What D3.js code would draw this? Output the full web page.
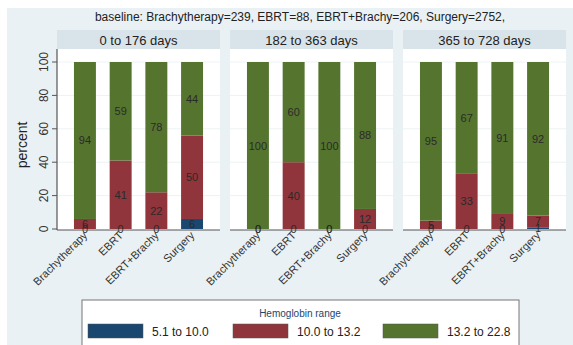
<!DOCTYPE html>
<html><head><meta charset="utf-8">
<script src="https://cdn.jsdelivr.net/npm/d3@7/dist/d3.min.js"></script>
<style>body{margin:0;background:#fff;}svg{display:block;font-family:"Liberation Sans",Arial,sans-serif;}</style>
</head><body><div id="c"></div>
<script>
const title = "baseline: Brachytherapy=239, EBRT=88, EBRT+Brachy=206, Surgery=2752,";
const panels = ["0 to 176 days", "182 to 363 days", "365 to 728 days"];
const categories = ["Brachytherapy", "EBRT", "EBRT+Brachy", "Surgery"];
const seriesNames = ["5.1 to 10.0", "10.0 to 13.2", "13.2 to 22.8"];
const seriesColors = ["#1a476f", "#90353b", "#55752f"];
// values[panel][category] = [low, mid, high]
const low  = [[0, 0, 0, 6], [0, 0, 0, 0], [0, 0, 0, 1]];
const mid  = [[6, 41, 22, 50], [0, 40, 0, 12], [5, 33, 9, 7]];
const high = [[94, 59, 78, 44], [100, 60, 100, 88], [95, 67, 91, 92]];
const yTicks = [0, 20, 40, 60, 80, 100];

const W = 573, H = 345;
const svg = d3.select("#c").append("svg").attr("width", W).attr("height", H);
svg.append("rect").attr("x", 7).attr("y", 8).attr("width", W - 7).attr("height", H - 8).attr("fill", "#eaf1f4");

svg.append("text").attr("x", 300).attr("y", 21).attr("text-anchor", "middle")
  .attr("font-size", 12).attr("fill", "#222").text(title);

const panelX = [57, 230, 403], panelW = 163;
const headTop = 30, headBot = 49, plotBot = 230;
const y = d3.scaleLinear().domain([0, 100]).range([229, 62]);

panels.forEach((p, pi) => {
  const g = svg.append("g").attr("transform", `translate(${panelX[pi]},0)`);
  g.append("rect").attr("x", 0).attr("y", headTop).attr("width", panelW).attr("height", headBot - headTop).attr("fill", "#d9e4ea");
  g.append("text").attr("x", panelW / 2).attr("y", 45).attr("text-anchor", "middle").attr("font-size", 13).attr("fill", "#222").text(p);
  g.append("rect").attr("x", 0).attr("y", headBot).attr("width", panelW).attr("height", plotBot - headBot).attr("fill", "#fff");
  // gridlines
  g.selectAll(".grid").data(yTicks.slice(1)).enter().append("line")
    .attr("x1", 0).attr("x2", panelW).attr("y1", d => y(d)).attr("y2", d => y(d))
    .attr("stroke", "#eef2f4").attr("stroke-width", 1);
  const x = d3.scaleBand().domain(categories).range([0, panelW]).paddingInner(0.385).paddingOuter(0.475);
  categories.forEach((c, ci) => {
    const vals = [low[pi][ci], mid[pi][ci], high[pi][ci]];
    let cum = 0;
    const segs = vals.map((v, si) => { const s = { v, y0: cum, y1: cum + v, si }; cum += v; return s; });
    segs.forEach(s => {
      if (s.v > 0) g.append("rect").attr("x", x(c)).attr("width", x.bandwidth())
        .attr("y", y(s.y1)).attr("height", y(s.y0) - y(s.y1)).attr("fill", seriesColors[s.si]);
    });
    segs.forEach(s => {
      g.append("text").attr("x", x(c) + x.bandwidth() / 2).attr("y", y((s.y0 + s.y1) / 2) + 4)
        .attr("text-anchor", "middle").attr("font-size", 11).attr("fill", "#2a2a2a").text(s.v);
    });
    g.append("text").attr("transform", `translate(${x(c) + x.bandwidth() / 2 + 3},${plotBot + 6}) rotate(-45)`)
      .attr("text-anchor", "end").attr("font-size", 11).attr("fill", "#333").text(c);
  });
  g.append("line").attr("x1", 0).attr("x2", panelW).attr("y1", plotBot).attr("y2", plotBot).attr("stroke", "#555").attr("stroke-width", 1.2);
  if (pi === 0) {
    g.append("line").attr("x1", 0).attr("x2", 0).attr("y1", headBot).attr("y2", plotBot).attr("stroke", "#555").attr("stroke-width", 1.2);
    yTicks.forEach(t => {
      g.append("line").attr("x1", -5).attr("x2", 0).attr("y1", y(t)).attr("y2", y(t)).attr("stroke", "#555");
      g.append("text").attr("transform", `translate(-9,${y(t)}) rotate(-90)`).attr("text-anchor", "middle")
        .attr("font-size", 12).attr("fill", "#333").text(t);
    });
  }
});

svg.append("text").attr("transform", "translate(27,145) rotate(-90)").attr("text-anchor", "middle")
  .attr("font-size", 14).attr("fill", "#222").text("percent");

// legend
const lg = svg.append("g");
lg.append("rect").attr("x", 82).attr("y", 300).attr("width", 437).attr("height", 50).attr("fill", "#fff").attr("stroke", "#777");
lg.append("text").attr("x", 300).attr("y", 317).attr("text-anchor", "middle").attr("font-size", 10).attr("fill", "#1a476f").text("Hemoglobin range");
const keyX = [88, 233, 383], labX = [152, 297, 447];
seriesNames.forEach((s, i) => {
  lg.append("rect").attr("x", keyX[i]).attr("y", 324).attr("width", 55).attr("height", 14).attr("fill", seriesColors[i]).attr("stroke", "#555").attr("stroke-width", 0.5);
  lg.append("text").attr("x", labX[i]).attr("y", 336).attr("font-size", 12).attr("fill", "#222").text(s);
});
</script></body></html>
